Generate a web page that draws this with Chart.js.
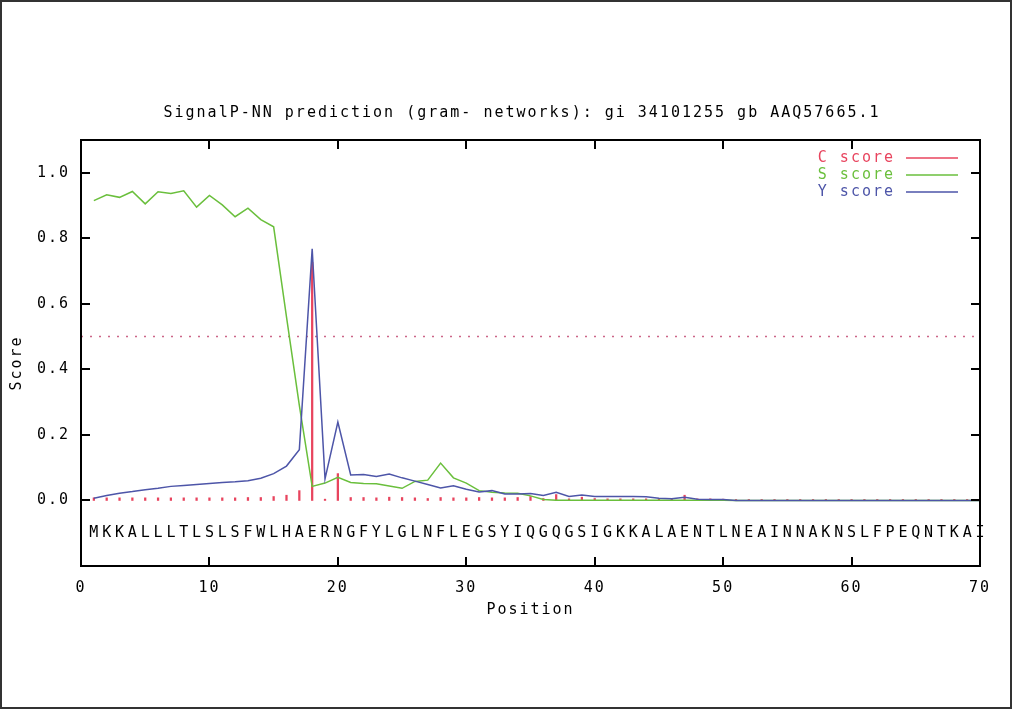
<!DOCTYPE html>
<html>
<head>
<meta charset="utf-8">
<title>SignalP-NN prediction</title>
<script src="https://cdn.jsdelivr.net/npm/chart.js@4.4.1/dist/chart.umd.min.js"></script>
<style>
  html, body { margin: 0; padding: 0; background: #fff; }
  canvas { display: block; }
</style>
</head>
<body>
<canvas id="signalp-canvas" width="1012" height="709"></canvas>
<script>
// SignalP-NN plot: C, S and Y scores per residue
const residues = 'MKKALLLTLSLSFWLHAERNGFYLGLNFLEGSYIQGQGSIGKKALAENTLNEAINNAKNSLFPEQNTKAI'.split('');
const positions = residues.map((_, i) => i + 1);

const cScore = [
  0.008, 0.008, 0.008, 0.008, 0.008, 0.008, 0.008, 0.008, 0.008, 0.008,
  0.008, 0.008, 0.009, 0.009, 0.012, 0.016, 0.030, 0.727, 0.004, 0.082,
  0.009, 0.009, 0.008, 0.010, 0.009, 0.008, 0.006, 0.009, 0.008, 0.008,
  0.009, 0.008, 0.008, 0.009, 0.012, 0.006, 0.018, 0.005, 0.010, 0.006,
  0.005, 0.005, 0.005, 0.005, 0.005, 0.005, 0.016, 0.005, 0.005, 0.004,
  0.003, 0.003, 0.003, 0.003, 0.003, 0.003, 0.003, 0.003, 0.003, 0.003,
  0.003, 0.003, 0.003, 0.003, 0.003, 0.003, 0.003, 0.003, 0.003, 0.003
];
const sScore = [
  0.915, 0.933, 0.925, 0.943, 0.905, 0.942, 0.937, 0.945, 0.895, 0.931,
  0.902, 0.866, 0.892, 0.857, 0.835, 0.560, 0.290, 0.043, 0.053, 0.071,
  0.055, 0.052, 0.051, 0.044, 0.037, 0.058, 0.062, 0.114, 0.069, 0.053,
  0.030, 0.025, 0.023, 0.022, 0.014, 0.003, 0.001, 0.001, 0.001, 0.001,
  0.001, 0.001, 0.001, 0.001, 0.001, 0.001, 0.001, 0.001, 0.001, 0.001,
  0, 0, 0, 0, 0, 0, 0, 0, 0, 0,
  0, 0, 0, 0, 0, 0, 0, 0, 0, 0
];
const yScore = [
  0.007, 0.015, 0.022, 0.027, 0.033, 0.037, 0.043, 0.046, 0.049, 0.052,
  0.055, 0.057, 0.060, 0.068, 0.082, 0.105, 0.155, 0.768, 0.066, 0.239,
  0.078, 0.079, 0.073, 0.081, 0.069, 0.059, 0.049, 0.038, 0.045, 0.034,
  0.026, 0.030, 0.020, 0.020, 0.021, 0.015, 0.025, 0.012, 0.017, 0.012,
  0.012, 0.012, 0.012, 0.011, 0.007, 0.005, 0.010, 0.004, 0.003, 0.003,
  0, 0, 0, 0, 0, 0, 0, 0, 0, 0,
  0, 0, 0, 0, 0, 0, 0, 0, 0, 0
];

const cutoff = 0.5;
const residueLevel = -0.1;
const xTicks = [0, 10, 20, 30, 40, 50, 60, 70];
const yTicks = [0, 0.2, 0.4, 0.6, 0.8, 1.0];

const TITOL = 'SignalP-NN prediction (gram- networks): gi 34101255 gb AAQ57665.1';
const TITOL_Y = 'Score';

const RED = '#e8445e';
const GREEN = '#6abf3c';
const BLUE = '#4d55a8';
const MONO = 'DejaVu Sans Mono, Liberation Mono, monospace';
const FONT = '15px ' + MONO;

const toPoints = vals => positions.map((p, i) => ({ x: p, y: vals[i] }));

// Frame, inward ticks, titles, residue letters and the legend in the corner
const pluginDecor = {
  id: 'decor',
  beforeDraw(chart) {
    chart.ctx.letterSpacing = '2px';
  },
  afterDatasetsDraw(chart) {
    const { ctx, chartArea: a, scales: { x, y } } = chart;
    ctx.save();

    ctx.strokeStyle = '#000';
    ctx.lineWidth = 2;
    ctx.strokeRect(a.left, a.top, a.right - a.left, a.bottom - a.top);

    const tl = 9;
    ctx.beginPath();
    xTicks.forEach(v => {
      const px = Math.round(x.getPixelForValue(v));
      ctx.moveTo(px, a.bottom); ctx.lineTo(px, a.bottom - tl);
      ctx.moveTo(px, a.top); ctx.lineTo(px, a.top + tl);
    });
    yTicks.forEach(v => {
      const py = Math.round(y.getPixelForValue(v));
      ctx.moveTo(a.left, py); ctx.lineTo(a.left + tl, py);
      ctx.moveTo(a.right, py); ctx.lineTo(a.right - tl, py);
    });
    ctx.stroke();

    ctx.font = FONT;
    ctx.fillStyle = '#000';
    ctx.textAlign = 'center';
    ctx.textBaseline = 'middle';

    // títol centrat una mica a l'esquerra del centre de l'àrea
    ctx.fillText(TITOL, 522, 113);

    ctx.save();
    ctx.translate(17, 363);
    ctx.rotate(-Math.PI / 2);
    ctx.fillText(TITOL_Y, 0, 0);
    ctx.restore();

    ctx.letterSpacing = '0px';
    const ry = y.getPixelForValue(residueLevel);
    residues.forEach((r, i) => ctx.fillText(r, x.getPixelForValue(positions[i]), ry));

    ctx.letterSpacing = '2px';
    ctx.textAlign = 'right';
    ctx.lineWidth = 1.5;
    chart.data.datasets.filter(d => d.label).forEach((d, i) => {
      const ly = a.top + 18 + i * 17;
      ctx.fillStyle = d.legendColor;
      ctx.fillText(d.label, a.right - 85, ly);
      ctx.strokeStyle = d.legendColor;
      ctx.beginPath();
      ctx.moveTo(a.right - 74, ly);
      ctx.lineTo(a.right - 22, ly);
      ctx.stroke();
    });

    ctx.restore();
  },
  afterDraw(chart) {
    const { ctx, width, height } = chart;
    ctx.save();
    ctx.strokeStyle = '#333';
    ctx.lineWidth = 2;
    ctx.strokeRect(1, 1, width - 2, height - 2);
    ctx.restore();
  }
};

new Chart(document.getElementById('signalp-canvas').getContext('2d'), {
  type: 'line',
  data: {
    datasets: [
      {
        type: 'line',
        data: [{ x: xTicks[0], y: cutoff }, { x: xTicks[xTicks.length - 1], y: cutoff }],
        borderColor: '#cc6688',
        borderWidth: 1.5,
        borderDash: [2, 7],
        pointRadius: 0,
        order: 4,
      },
      {
        type: 'bar',
        label: 'C score',
        legendColor: RED,
        data: toPoints(cScore),
        backgroundColor: RED,
        borderWidth: 0,
        barThickness: 1.6,
        order: 3,
      },
      {
        type: 'line',
        label: 'S score',
        legendColor: GREEN,
        data: toPoints(sScore),
        borderColor: GREEN,
        borderWidth: 1.5,
        pointRadius: 0,
        tension: 0,
        order: 2,
      },
      {
        type: 'line',
        label: 'Y score',
        legendColor: BLUE,
        data: toPoints(yScore),
        borderColor: BLUE,
        borderWidth: 1.5,
        pointRadius: 0,
        tension: 0,
        order: 1,
      }
    ]
  },
  options: {
    responsive: false,
    animation: false,
    devicePixelRatio: 1,
    layout: { padding: { left: 0, right: 32, top: 140, bottom: 90 } },
    plugins: {
      legend: { display: false },
      tooltip: { enabled: false },
      title: { display: false },
    },
    scales: {
      x: {
        type: 'linear',
        min: 0,
        max: 70,
        offset: false,
        afterBuildTicks: s => { s.ticks = xTicks.map(v => ({ value: v })); },
        afterFit: s => { s.height = 53; },
        ticks: {
          color: '#000',
          font: { size: 15, family: MONO },
          padding: 13,
          maxRotation: 0,
          callback: v => String(v),
        },
        grid: { display: false, drawTicks: false },
        border: { display: false },
        title: {
          display: true,
          text: 'Position',
          color: '#000',
          font: { size: 15, family: MONO, lineHeight: 1.2 },
          padding: { top: 0, bottom: 0 },
        }
      },
      y: {
        type: 'linear',
        min: -0.2,
        max: 1.1,
        afterBuildTicks: s => { s.ticks = yTicks.map(v => ({ value: v })); },
        afterFit: s => { s.width = 81; },
        ticks: {
          color: '#000',
          font: { size: 15, family: MONO },
          padding: 11,
          callback: v => v.toFixed(1),
        },
        grid: { display: false, drawTicks: false },
        border: { display: false },
      }
    }
  },
  plugins: [pluginDecor]
});
</script>
</body>
</html>
